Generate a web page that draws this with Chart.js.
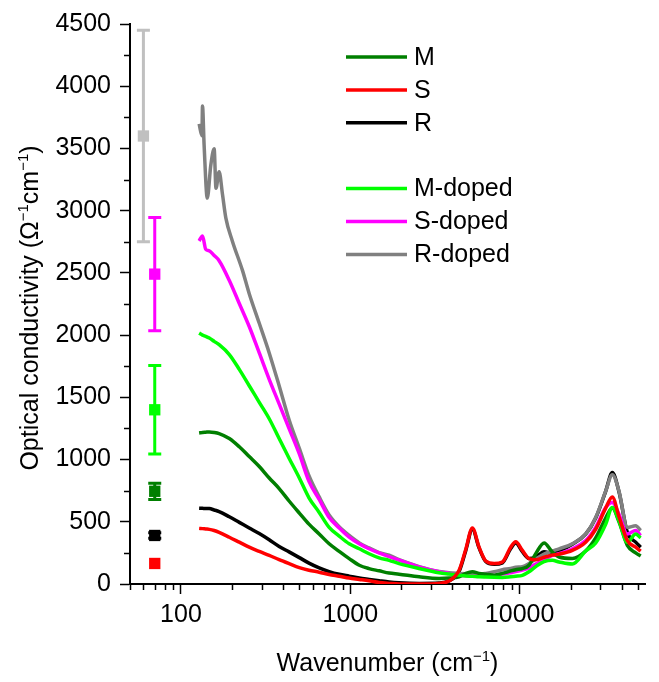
<!DOCTYPE html>
<html>
<head>
<meta charset="utf-8">
<script src="https://cdn.jsdelivr.net/npm/chart.js@4.4.1/dist/chart.umd.min.js"></script>
<style>
  html, body { margin: 0; padding: 0; background: #fff; }
  #wrap { width: 659px; height: 682px; }
</style>
</head>
<body>
<div id="wrap"><canvas id="myChart" width="659" height="682"></canvas></div>
<script>
// wavenumber grid (cm-1) shared by most spectra
const wavenumber = [128, 134, 140, 147, 157, 168, 193, 221, 253, 290, 332, 380, 435, 500, 570, 655, 750, 860, 985,
  1130, 1290, 1480, 1695, 1940, 2550, 3345, 3830, 4390, 4810, 5260, 5760, 6310, 7070, 7910, 8860, 9480,
  10380, 11360, 12450, 13940, 15600, 17090, 20480, 24540, 28130, 32220, 35250, 38620, 43260, 48460, 51860];

const sigmaM = [1214, 1218, 1220, 1222, 1218, 1209, 1169, 1103, 1024, 944, 852, 767, 667, 570, 481, 402, 323, 262, 204,
  151, 124, 106, 88, 79, 58, 45, 48, 58, 85, 98, 85, 79, 71, 85, 105, 115,
  124, 151, 243, 330, 257, 217, 205, 265, 370, 530, 610, 500, 310, 250, 225];
const sigmaS = [447, 445, 442, 439, 430, 415, 376, 336, 296, 262, 230, 196, 164, 132, 111, 95, 77, 63, 48,
  37, 26, 12, 5, 0, 0, 5, 25, 111, 280, 450, 296, 185, 164, 177, 296, 340,
  270, 204, 195, 215, 232, 240, 270, 335, 440, 610, 700, 540, 349, 296, 264];
const sigmaR = [609, 608, 607, 606, 595, 582, 540, 495, 450, 405, 355, 302, 258, 212, 168, 130, 100, 78, 63,
  48, 37, 26, 16, 10, 5, 8, 25, 100, 270, 440, 290, 180, 158, 170, 285, 330,
  260, 205, 215, 260, 245, 265, 320, 400, 530, 745, 895, 740, 415, 336, 296];
const sigmaMDoped = [2016, 2000, 1990, 1976, 1950, 1923, 1844, 1725, 1593, 1460, 1328, 1169, 1011, 852, 693, 575, 455, 385, 323,
  283, 243, 210, 190, 164, 124, 90, 80, 71, 65, 62, 58, 56, 54, 53, 58, 62,
  70, 98, 140, 180, 190, 177, 160, 265, 330, 480, 614, 508, 335, 402, 370];
const sigmaSDoped = [2757, 2796, 2690, 2677, 2640, 2598, 2439, 2254, 2069, 1857, 1645, 1447, 1249, 1045, 825, 680, 534, 450, 376,
  323, 283, 250, 220, 192, 137, 98, 85, 71, 66, 63, 62, 62, 66, 80, 90, 100,
  111, 130, 160, 195, 230, 243, 283, 349, 455, 614, 655, 560, 402, 429, 389];

// R-doped has a noisy low-frequency end, so it keeps its own grid
const wavenumberRDoped = [128, 133, 134, 137, 143, 150, 157, 161, 168, 176, 184, 201, 231, 253, 290, 332, 380, 435, 500,
  570, 655, 750, 860, 985, 1130, 1290, 1480, 1695, 1940, 2550, 3345, 3830, 4390, 4810, 5260, 5760, 6310, 7070,
  7910, 8860, 9480, 10380, 11360, 12450, 13940, 15600, 17090, 20480, 24540, 28130, 32220, 35250, 38620, 43260, 48460, 51860];
const sigmaRDoped = [3698, 3603, 3841, 3524, 3101, 3365, 3497, 3180, 3312, 3127, 2942, 2757, 2518, 2333, 2095, 1857, 1593, 1320, 1090,
  870, 700, 555, 460, 390, 330, 290, 252, 232, 195, 140, 100, 90, 85, 82, 80, 79, 85, 98,
  115, 125, 135, 140, 165, 200, 240, 265, 283, 323, 402, 534, 746, 878, 746, 455, 468, 429];

const seriesNames = ['M', 'S', 'R', 'M-doped', 'S-doped', 'R-doped'];
const seriesColors = ['#007f00', '#ff0000', '#000000', '#00ff00', '#ff00ff', '#808080'];
const drawOrder = [3, 1, 6, 2, 4, 5]; // higher number = drawn further back

// dc conductivity points with error bars
const dcWavenumber = [60, 70, 70, 70, 70, 70];
const dcValues = [3600, 2490, 1400, 745, 390, 165];
const dcErrors = [850, 455, 355, 65, 22, 0];
const dcColors = ['#c0c0c0', '#ff00ff', '#00ff00', '#007f00', '#000000', '#ff0000'];

const xMajorTicks = [100, 1000, 10000];
const yMax = 4500;
const yStep = 500;

const FONT = 'Liberation Sans, Arial, sans-serif';

function zip(xs, ys) {
  return xs.map((v, i) => ({ x: v, y: ys[i] }));
}

const spectra = [sigmaM, sigmaS, sigmaR, sigmaMDoped, sigmaSDoped, sigmaRDoped];
const datasets = spectra.map((vals, i) => ({
  label: seriesNames[i],
  data: zip(i === 5 ? wavenumberRDoped : wavenumber, vals),
  showLine: true,
  borderColor: seriesColors[i],
  borderWidth: 3.5,
  pointRadius: 0,
  cubicInterpolationMode: 'monotone',
  order: drawOrder[i]
}));

datasets.push({
  label: 'dc',
  data: zip(dcWavenumber, dcValues),
  showLine: false,
  pointStyle: 'rect',
  pointRadius: 8,
  borderWidth: 0,
  backgroundColor: dcColors,
  borderColor: dcColors,
  order: 0
});

function drawText(ctx, parts, size) {
  // parts: [text, isSuperscript]
  let w = 0;
  parts.forEach(p => {
    ctx.font = (p[1] ? size * 0.6 : size) + 'px ' + FONT;
    w += ctx.measureText(p[0]).width;
  });
  let x = -w / 2;
  parts.forEach(p => {
    ctx.font = (p[1] ? size * 0.6 : size) + 'px ' + FONT;
    ctx.fillText(p[0], x, p[1] ? -size * 0.4 : 0);
    x += ctx.measureText(p[0]).width;
  });
}

const decor = {
  id: 'decor',
  beforeDatasetsDraw(chart) {
    const { ctx, scales: { x, y } } = chart;
    ctx.save();
    ctx.lineWidth = 3;
    dcValues.forEach((v, i) => {
      if (!dcErrors[i]) return;
      const px = x.getPixelForValue(dcWavenumber[i]);
      const top = y.getPixelForValue(v + dcErrors[i]);
      const bot = y.getPixelForValue(v - dcErrors[i]);
      ctx.strokeStyle = dcColors[i];
      ctx.beginPath();
      ctx.moveTo(px, top); ctx.lineTo(px, bot);
      ctx.moveTo(px - 6.5, top); ctx.lineTo(px + 6.5, top);
      ctx.moveTo(px - 6.5, bot); ctx.lineTo(px + 6.5, bot);
      ctx.stroke();
    });
    ctx.restore();
  },
  afterDraw(chart) {
    const { ctx, chartArea: area, scales: { x, y } } = chart;
    ctx.save();
    ctx.strokeStyle = '#000';
    ctx.lineWidth = 1.5;
    ctx.beginPath();
    // minor ticks
    for (let v = yStep / 2; v < yMax; v += yStep) {
      const py = Math.round(y.getPixelForValue(v)) + 0.5;
      ctx.moveTo(area.left - 6, py); ctx.lineTo(area.left, py);
    }
    for (let dec = 10; dec <= 10000; dec *= 10) {
      for (let k = 2; k <= 9; k++) {
        const v = k * dec;
        if (v < x.min || v > x.max) continue;
        const px = Math.round(x.getPixelForValue(v)) + 0.5;
        ctx.moveTo(px, area.bottom); ctx.lineTo(px, area.bottom + 6);
      }
    }
    ctx.stroke();

    // axis titles
    ctx.fillStyle = '#000';
    ctx.textBaseline = 'alphabetic';
    ctx.textAlign = 'left';
    ctx.save();
    ctx.translate(38, (area.top + area.bottom) / 2 + 4);
    ctx.rotate(-Math.PI / 2);
    drawText(ctx, [['Optical conductivity (\u03A9', false], ['\u22121', true], ['cm', false], ['\u22121', true], [')', false]], 25);
    ctx.restore();
    ctx.save();
    ctx.translate((area.left + area.right) / 2, 671);
    drawText(ctx, [['Wavenumber (cm', false], ['\u22121', true], [')', false]], 25);
    ctx.restore();

    // legend
    const slots = [0, 1, 2, 4, 5, 6];
    ctx.font = '25px ' + FONT;
    ctx.textBaseline = 'middle';
    seriesNames.forEach((name, i) => {
      const ry = 57 + slots[i] * 32.9;
      ctx.strokeStyle = seriesColors[i];
      ctx.lineWidth = 3.5;
      ctx.beginPath();
      ctx.moveTo(346, ry); ctx.lineTo(407, ry);
      ctx.stroke();
      ctx.fillText(name, 414, ry + 1);
    });
    ctx.restore();
  }
};

new Chart(document.getElementById('myChart'), {
  type: 'scatter',
  data: { datasets },
  options: {
    responsive: false,
    animation: false,
    layout: { padding: { top: 17, right: 14, left: 0, bottom: 0 } },
    plugins: { legend: { display: false }, tooltip: { enabled: false } },
    scales: {
      x: {
        type: 'logarithmic',
        min: 50,
        max: 55000,
        afterBuildTicks: s => { s.ticks = xMajorTicks.map(v => ({ value: v, major: true })); },
        afterFit: s => { s.height = 98; },
        grid: { display: true, drawOnChartArea: false, drawTicks: true, tickLength: 10, tickWidth: 1.5, tickColor: '#000' },
        border: { display: true, color: '#000', width: 2 },
        ticks: {
          color: '#000', font: { family: FONT, size: 25 }, padding: 6,
          maxRotation: 0, autoSkip: false, callback: v => String(v)
        }
      },
      y: {
        min: 0,
        max: yMax,
        afterFit: s => { s.width = 130; },
        grid: { display: true, drawOnChartArea: false, drawTicks: true, tickLength: 10, tickWidth: 1.5, tickColor: '#000' },
        border: { display: true, color: '#000', width: 2 },
        ticks: { stepSize: yStep, color: '#000', font: { family: FONT, size: 25 }, padding: 9, callback: v => String(v) }
      }
    }
  },
  plugins: [decor]
});
</script>
</body>
</html>
